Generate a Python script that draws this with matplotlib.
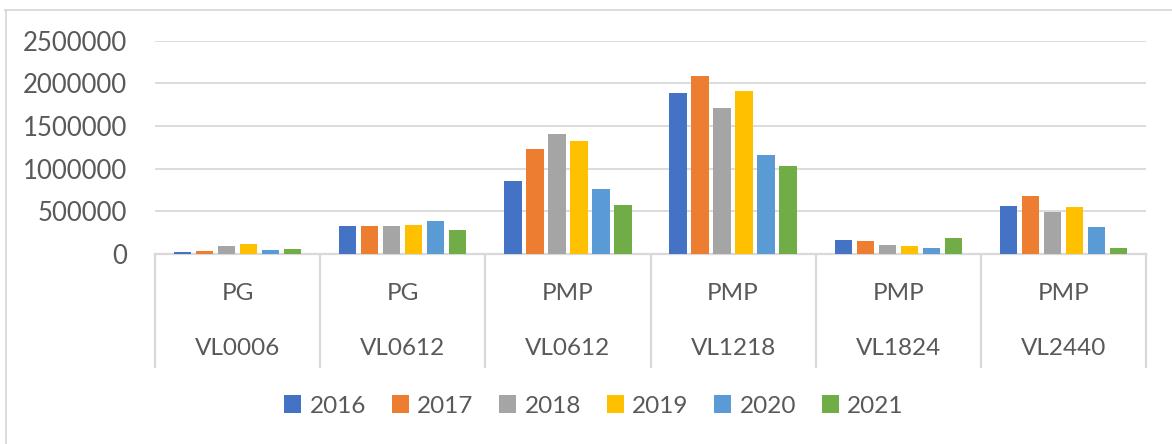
import matplotlib
matplotlib.use("Agg")
import matplotlib.pyplot as plt
from matplotlib.lines import Line2D
import numpy as np

# ---- data ----
groups_top = ["PG", "PG", "PMP", "PMP", "PMP", "PMP"]
groups_bottom = ["VL0006", "VL0612", "VL0612", "VL1218", "VL1824", "VL2440"]
years = ["2016", "2017", "2018", "2019", "2020", "2021"]
v2016 = [27000, 333000, 850000, 1885000, 168000, 560000]
v2017 = [31000, 325000, 1234000, 2084000, 149000, 678000]
v2018 = [98000, 325000, 1403000, 1712000, 106000, 490000]
v2019 = [114000, 345000, 1320000, 1908000, 94000, 549000]
v2020 = [51000, 392000, 760000, 1156000, 67000, 313000]
v2021 = [59000, 286000, 580000, 1030000, 184000, 70000]
series = [v2016, v2017, v2018, v2019, v2020, v2021]
colors = ["#4472C4", "#ED7D31", "#A5A5A5", "#FFC000", "#5B9BD5", "#70AD47"]
yticks = [0, 500000, 1000000, 1500000, 2000000, 2500000]

plt.rcParams["font.family"] = ["Lato", "DejaVu Sans"]
TXT = "#595959"
GRID = "#D9D9D9"
FS = 17.5

W, H = 1172, 444
fig = plt.figure(figsize=(W / 100, H / 100), dpi=100)
left, right, top, bottom = 155, 1146, 40.7, 254
ax = fig.add_axes([left / W, 1 - bottom / H, (right - left) / W, (bottom - top) / H])

x = np.arange(len(groups_bottom))
step = 22 / 165
bw = 17.3 / 165
for i, (vals, c, yr) in enumerate(zip(series, colors, years)):
    ax.bar(x + (i - 2.5) * step, vals, width=bw, color=c, label=yr, zorder=3)

ax.set_xlim(-0.5, len(x) - 0.5)
ax.set_ylim(0, 2500000)
ax.set_yticks(yticks)
ax.set_yticklabels([str(t) for t in yticks], fontsize=18.5, color=TXT)
ax.tick_params(axis="y", length=0, pad=20)
ax.set_xticks([])
ax.grid(axis="y", color=GRID, linewidth=1.3, zorder=0)
for s in ["left", "right", "top"]:
    ax.spines[s].set_visible(False)
ax.spines["bottom"].set_color(GRID)
ax.spines["bottom"].set_linewidth(1.6)

# category table
axh = bottom - top
tb = -(366.7 - bottom) / axh
tr = ax.get_xaxis_transform()
for b in np.arange(-0.5, len(x), 1.0):
    ax.add_line(Line2D([b, b], [0, tb], transform=tr, color=GRID, lw=1.6, clip_on=False))
y_top = -(293 - bottom) / axh
y_bot = -(348 - bottom) / axh
for xi, t1, t2 in zip(x, groups_top, groups_bottom):
    ax.text(xi, y_top, t1, transform=tr, ha="center", va="center", fontsize=FS, color=TXT)
    ax.text(xi, y_bot, t2, transform=tr, ha="center", va="center", fontsize=FS, color=TXT)

# legend
leg = fig.legend(loc="center", bbox_to_anchor=(594 / W, 1 - 406 / H), ncol=6, frameon=False,
                 fontsize=FS, handlelength=0.7, handleheight=0.7, handletextpad=0.35,
                 columnspacing=1.05, labelcolor=TXT)

# outer border
fig.add_artist(Line2D([5 / W, 1], [1 - 10 / H, 1 - 10 / H], transform=fig.transFigure, color=GRID, lw=1.3))
fig.add_artist(Line2D([6 / W, 6 / W], [0, 1 - 10 / H], transform=fig.transFigure, color=GRID, lw=1.3))

fig.savefig("out.png", dpi=100, facecolor="white")
